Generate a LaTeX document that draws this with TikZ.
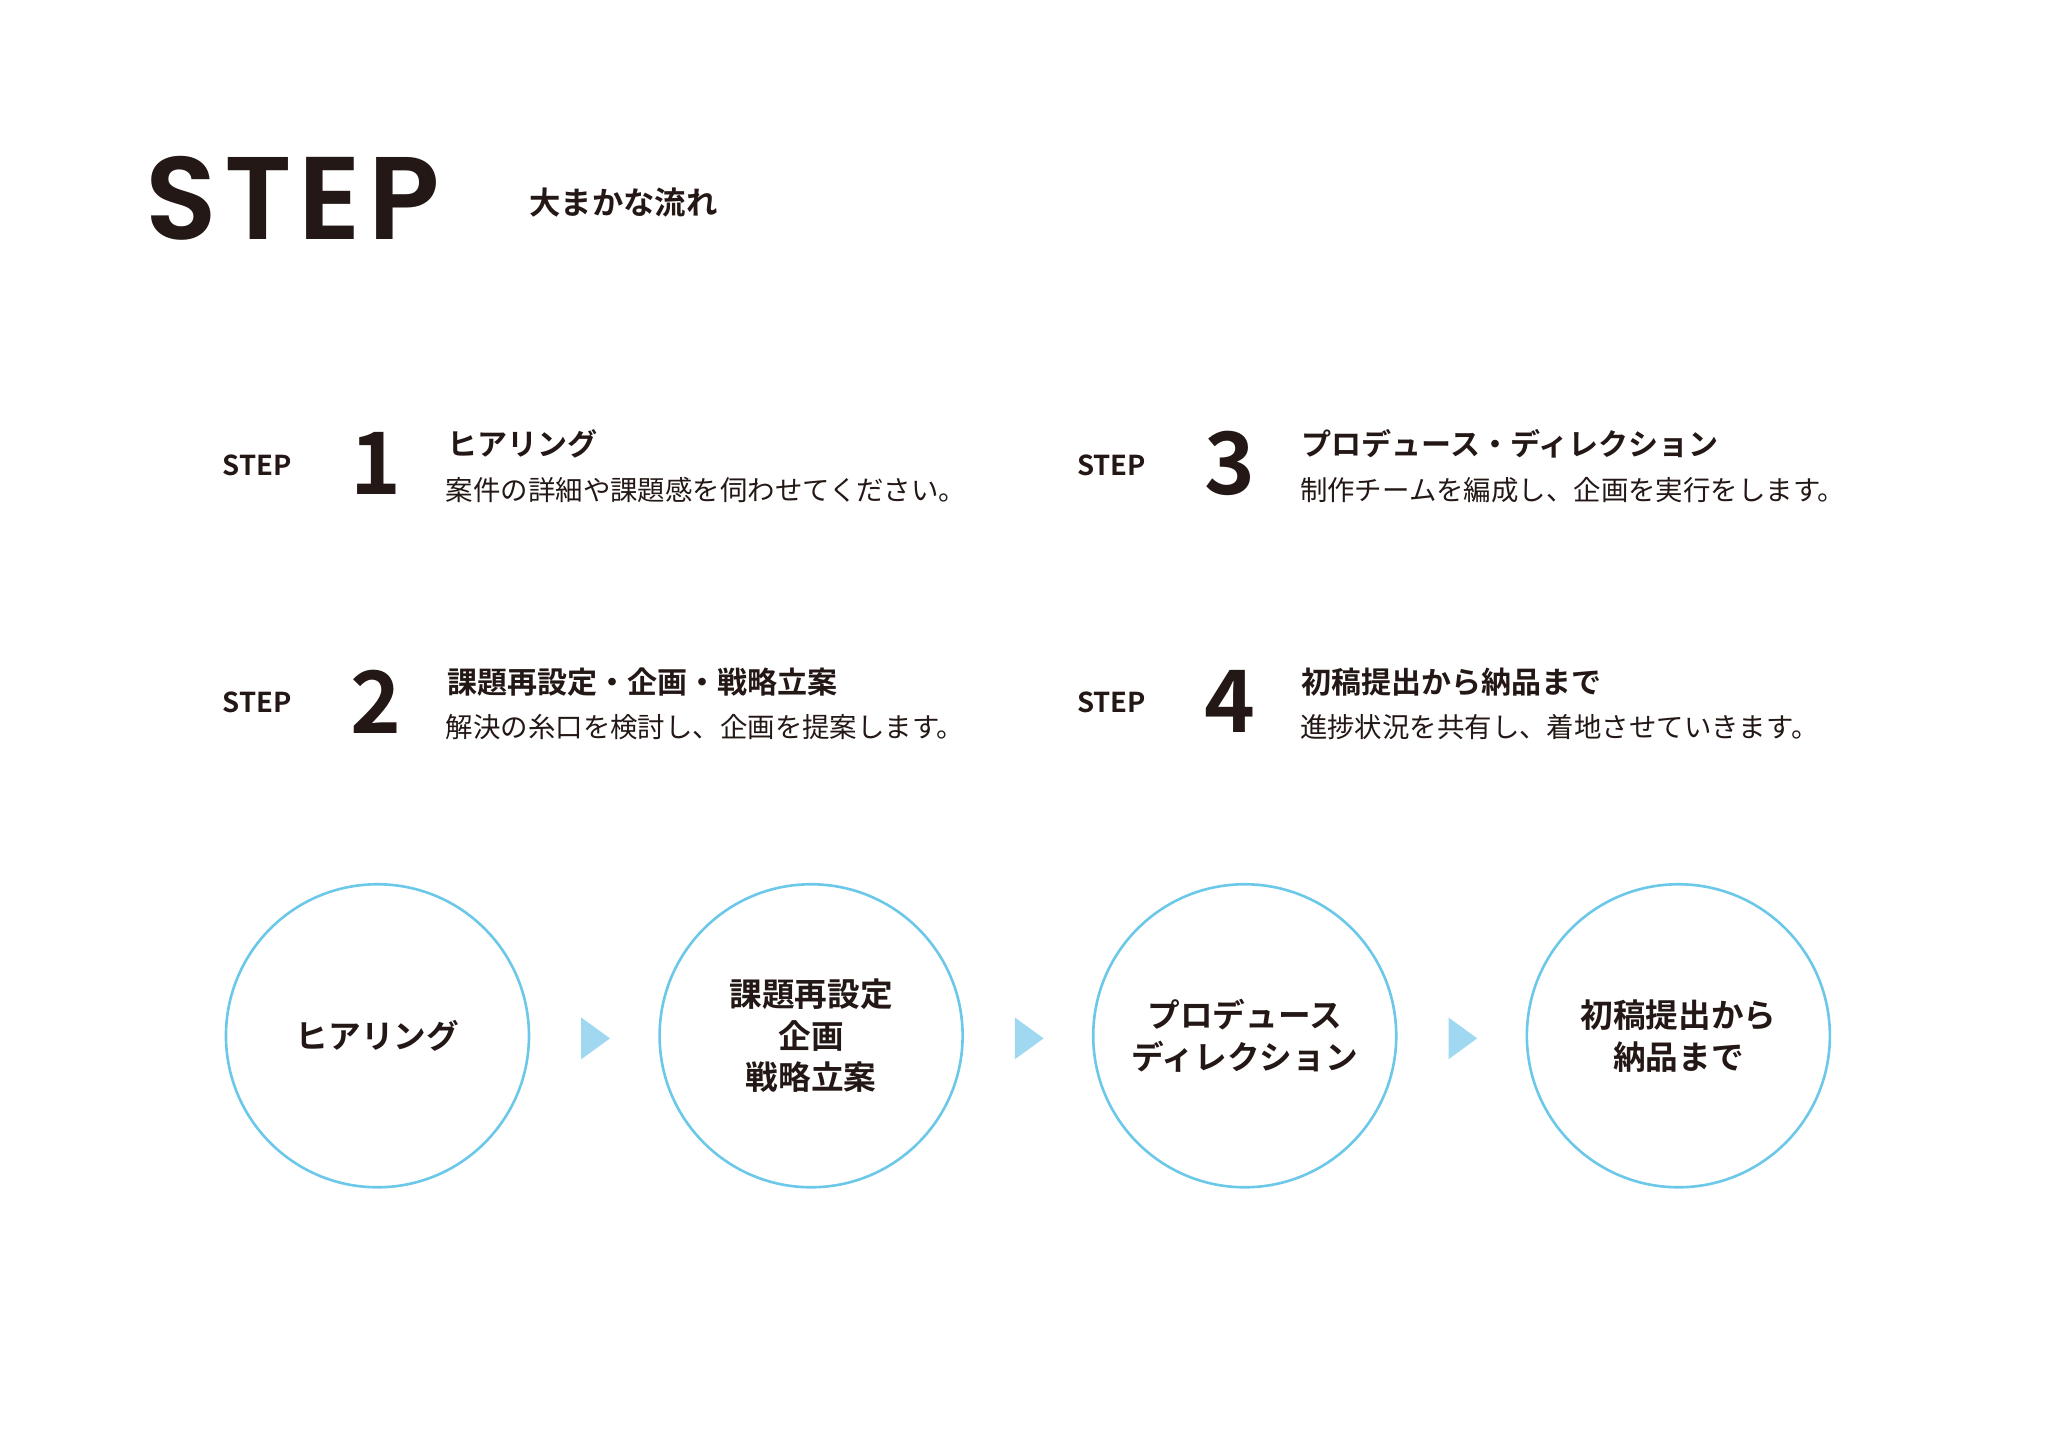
\documentclass[tikz,border=0pt]{standalone}
\usepackage{fontspec}
\setmainfont{Noto Sans CJK JP}
\newfontfamily\jpb{Noto Sans CJK JP Bold}
\newfontfamily\pop{Poppins SemiBold}[LetterSpace=6]
\definecolor{ring}{RGB}{108,200,232}
\definecolor{tri}{RGB}{160,216,242}
\definecolor{ink}{RGB}{35,24,21}
\begin{document}
\begin{tikzpicture}[x=0.5pt,y=-0.5pt,
  smallstep/.style={font=\jpb\fontsize{10.5}{12}\selectfont,text=ink,inner sep=0},
  num/.style={font=\jpb\fontsize{33}{34}\selectfont,text=ink,inner sep=0},
  ttl/.style={font=\jpb\fontsize{11.5}{12}\selectfont,text=ink,anchor=west,inner sep=0},
  desc/.style={font=\fontsize{10.5}{12}\selectfont,text=ink,anchor=west,inner sep=0},
  circ/.style={circle,draw=ring,line width=1pt,minimum size=116pt,inner sep=0,align=center,font=\jpb\fontsize{12.5}{16}\selectfont,text=ink},
  arr/.style={fill=tri,draw=none}]
\useasboundingbox (0,0) rectangle (1568,1109);
\node[font=\pop\fontsize{45}{45}\selectfont,text=ink,anchor=west,inner sep=0] (big) at (111,152) {STEP};
\node[font=\jpb\fontsize{12}{12}\selectfont,text=ink,anchor=west,inner sep=0] (sub) at (405,155) {大まかな流れ};
% rows
\node[smallstep] (s1) at (197,356) {STEP};
\node[num] (n1) at (288,355) {1};
\node[ttl] (t1) at (342,340) {ヒアリング};
\node[desc] (d1) at (341,375) {案件の詳細や課題感を伺わせてください。};
\node[smallstep] (s2) at (197,538) {STEP};
\node[num] (n2) at (288,537) {2};
\node[ttl] (t2) at (342,522) {課題再設定・企画・戦略立案};
\node[desc] (d2) at (341,557) {解決の糸口を検討し、企画を提案します。};
\node[smallstep] (s3) at (851,356) {STEP};
\node[num] (n3) at (942,355) {3};
\node[ttl] (t3) at (996,340) {プロデュース・ディレクション};
\node[desc] (d3) at (995,375) {制作チームを編成し、企画を実行をします。};
\node[smallstep] (s4) at (851,538) {STEP};
\node[num] (n4) at (942,537) {4};
\node[ttl] (t4) at (996,522) {初稿提出から納品まで};
\node[desc] (d4) at (995,557) {進捗状況を共有し、着地させていきます。};
% circles
\node[circ] (c1) at (289,793) {ヒアリング};
\node[circ] (c2) at (621,793) {課題再設定\\企画\\戦略立案};
\node[circ] (c3) at (953,793) {プロデュース\\ディレクション};
\node[circ] (c4) at (1285,793) {初稿提出から\\納品まで};
\foreach \x in {445,777,1109}{
  \fill[arr] (\x,779) -- (\x+22,795) -- (\x,811) -- cycle;
}
\end{tikzpicture}
\end{document}
